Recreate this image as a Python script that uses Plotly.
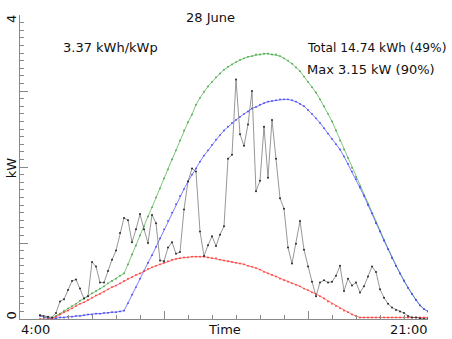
import plotly.graph_objects as go

# 10-minute samples from 04:50 to 21:00 (hours of day)
start_hour = 4 + 50 / 60
step_hour = 10 / 60

# measured AC power, kW
power = [
    0.05, 0.04, 0.03, 0.02, 0.08, 0.23, 0.26, 0.38, 0.50, 0.52,
    0.40, 0.27, 0.30, 0.75, 0.69, 0.48, 0.48, 0.63, 0.78, 0.90,
    1.13, 1.33, 1.30, 1.01, 1.18, 1.38, 1.18, 1.00, 1.37, 1.26,
    0.77, 0.76, 0.94, 1.01, 0.86, 0.88, 1.44, 1.81, 1.98, 1.94,
    1.15, 0.83, 0.97, 1.09, 0.96, 1.11, 1.22, 2.11, 2.16, 3.15,
    2.43, 2.28, 2.56, 3.00, 1.68, 1.82, 2.53, 1.86, 2.62, 2.11,
    1.59, 1.45, 0.94, 0.73, 0.99, 1.29, 0.91, 0.69, 0.49, 0.30,
    0.48, 0.51, 0.48, 0.49, 0.57, 0.70, 0.37, 0.53, 0.44, 0.48,
    0.35, 0.43, 0.56, 0.69, 0.62, 0.39, 0.28, 0.20, 0.15, 0.12,
    0.10, 0.08, 0.04, 0.02, 0.02, 0.01, 0.00, 0.00,
]

# clear-sky model, kW
clear_sky = [
    0.05, 0.04, 0.02, 0.01, 0.04, 0.07, 0.11, 0.14, 0.17, 0.20,
    0.24, 0.27, 0.30, 0.34, 0.37, 0.40, 0.43, 0.47, 0.50, 0.53,
    0.57, 0.60, 0.72, 0.85, 0.97, 1.10, 1.22, 1.35, 1.47, 1.60,
    1.72, 1.85, 1.97, 2.10, 2.22, 2.35, 2.48, 2.59, 2.69, 2.82,
    2.91, 2.99, 3.06, 3.12, 3.18, 3.23, 3.28, 3.32, 3.35, 3.38,
    3.41, 3.43, 3.45, 3.46, 3.48, 3.48, 3.49, 3.49, 3.48, 3.48,
    3.46, 3.43, 3.40, 3.36, 3.31, 3.26, 3.19, 3.12, 3.05, 2.98,
    2.89, 2.80, 2.70, 2.60, 2.48, 2.35, 2.23, 2.12, 1.99, 1.87,
    1.75, 1.63, 1.51, 1.39, 1.27, 1.16, 1.04, 0.92, 0.81, 0.70,
    0.60, 0.51, 0.41, 0.33, 0.25, 0.18, 0.13, 0.10,
]

# direct-beam component, kW
direct = [
    0.04, 0.02, 0.01, 0.01, 0.01, 0.02, 0.02, 0.03, 0.03, 0.04,
    0.04, 0.05, 0.06, 0.06, 0.07, 0.07, 0.08, 0.08, 0.09, 0.09,
    0.10, 0.11, 0.21, 0.32, 0.42, 0.53, 0.63, 0.74, 0.84, 0.95,
    1.06, 1.18, 1.29, 1.40, 1.51, 1.62, 1.71, 1.81, 1.90, 1.98,
    2.07, 2.15, 2.22, 2.29, 2.36, 2.42, 2.48, 2.53, 2.58, 2.62,
    2.66, 2.70, 2.73, 2.77, 2.79, 2.82, 2.84, 2.86, 2.87, 2.88,
    2.89, 2.89, 2.89, 2.88, 2.86, 2.83, 2.80, 2.75, 2.70, 2.64,
    2.58, 2.51, 2.44, 2.37, 2.30, 2.23, 2.14, 2.04, 1.94, 1.84,
    1.73, 1.62, 1.50, 1.39, 1.26, 1.15, 1.03, 0.92, 0.80, 0.70,
    0.60, 0.50, 0.41, 0.33, 0.25, 0.18, 0.13, 0.10,
]

# diffuse component, kW
diffuse = [
    0.00, 0.00, 0.00, 0.00, 0.03, 0.06, 0.09, 0.11, 0.14, 0.17,
    0.20, 0.22, 0.25, 0.28, 0.31, 0.33, 0.36, 0.39, 0.42, 0.44,
    0.47, 0.50, 0.53, 0.55, 0.58, 0.60, 0.63, 0.66, 0.68, 0.70,
    0.72, 0.74, 0.76, 0.78, 0.79, 0.80, 0.81, 0.81, 0.82, 0.82,
    0.82, 0.82, 0.81, 0.80, 0.80, 0.78, 0.77, 0.76, 0.75, 0.74,
    0.73, 0.72, 0.70, 0.69, 0.67, 0.65, 0.62, 0.60, 0.58, 0.56,
    0.53, 0.51, 0.49, 0.47, 0.45, 0.43, 0.40, 0.38, 0.35, 0.33,
    0.30, 0.27, 0.23, 0.20, 0.17, 0.14, 0.11, 0.09, 0.06, 0.04,
    0.02, 0.02, 0.02, 0.02, 0.02, 0.02, 0.02, 0.02, 0.02, 0.02,
    0.02, 0.02, 0.02, 0.02, 0.02, 0.02, 0.02, 0.02,
]

day_label = "28 June"
specific_yield = "3.37 kWh/kWp"
total_pct = 49
max_pct = 90

hours = [start_hour + i * step_hour for i in range(len(power))]
total_kwh = sum(power) * step_hour
max_kw = max(power)

FONT = "DejaVu Sans"
AXIS_GREY = "#8a8a8a"

fig = go.Figure()


def add_curve(values, color, lw, msize, mcolor=None):
    fig.add_trace(go.Scatter(
        x=hours, y=values, mode="lines+markers",
        line=dict(color=color, width=lw),
        marker=dict(color=mcolor or color, size=msize, line=dict(width=0)),
        hoverinfo="skip", showlegend=False,
    ))


add_curve(clear_sky, "rgb(70,170,70)", 0.7, 1.8)
add_curve(direct, "rgb(70,70,255)", 0.7, 1.8)
add_curve(diffuse, "rgb(255,60,60)", 0.7, 1.8)
add_curve(power, "#6a6a6a", 0.7, 2.0, "#2a2a2a")

texts = [
    dict(text=day_label, x=0.4657, y=0.9934, xanchor="center", size=13),
    dict(text=specific_yield, x=0.1029, y=0.8916, xanchor="left", size=13),
    dict(text=f"Total {total_kwh:.2f} kWh ({total_pct}%)", x=0.701, y=0.8916,
         xanchor="left", size=12.2),
    dict(text=f"Max {max_kw:.2f} kW ({max_pct}%)", x=0.701, y=0.8217,
         xanchor="left", size=13),
    dict(text="4:00", x=0.0, y=-0.0345, xanchor="left", size=13),
    dict(text="Time", x=0.5, y=-0.0345, xanchor="center", size=13),
    dict(text="21:00", x=1.0, y=-0.0345, xanchor="right", size=13),
    dict(text="4", x=-0.0208, y=0.9852, xanchor="center", textangle=-90, size=13),
    dict(text="0", x=-0.0208, y=0.0099, xanchor="center", textangle=-90, size=13),
    dict(text="kW", x=-0.0208, y=0.4975, xanchor="center", textangle=-90, size=13),
]
for t in texts:
    size = t.pop("size")
    fig.add_annotation(
        xref="paper", yref="paper", yanchor="middle", showarrow=False,
        font=dict(family=FONT, size=size, color="#111111"), borderpad=0, **t,
    )

fig.update_xaxes(
    range=[4, 21], showline=True, linecolor=AXIS_GREY, linewidth=1,
    mirror=False, showgrid=False, zeroline=False, showticklabels=False,
    tickmode="array", tickvals=[4, 10, 16], ticks="inside", ticklen=8,
    tickcolor=AXIS_GREY, tickwidth=1,
    minor=dict(tickmode="linear", tick0=4, dtick=1, ticks="inside",
               ticklen=4, tickcolor=AXIS_GREY, tickwidth=1, showgrid=False),
)
fig.update_yaxes(
    range=[0, 4], showline=True, linecolor=AXIS_GREY, linewidth=1,
    mirror=False, showgrid=False, zeroline=False, showticklabels=False,
    tickmode="array", tickvals=[0, 1, 2, 3, 4], ticks="inside", ticklen=8,
    tickcolor=AXIS_GREY, tickwidth=1,
    minor=dict(tickmode="linear", tick0=0, dtick=0.1, ticks="inside",
               ticklen=4, tickcolor=AXIS_GREY, tickwidth=1, showgrid=False),
)

fig.update_layout(
    width=452, height=339,
    margin=dict(l=20, r=24, t=15, b=20),
    paper_bgcolor="white", plot_bgcolor="white",
    font=dict(family=FONT, size=13, color="#111111"),
    showlegend=False,
)

fig.write_html("out.html", config={"displayModeBar": False})
